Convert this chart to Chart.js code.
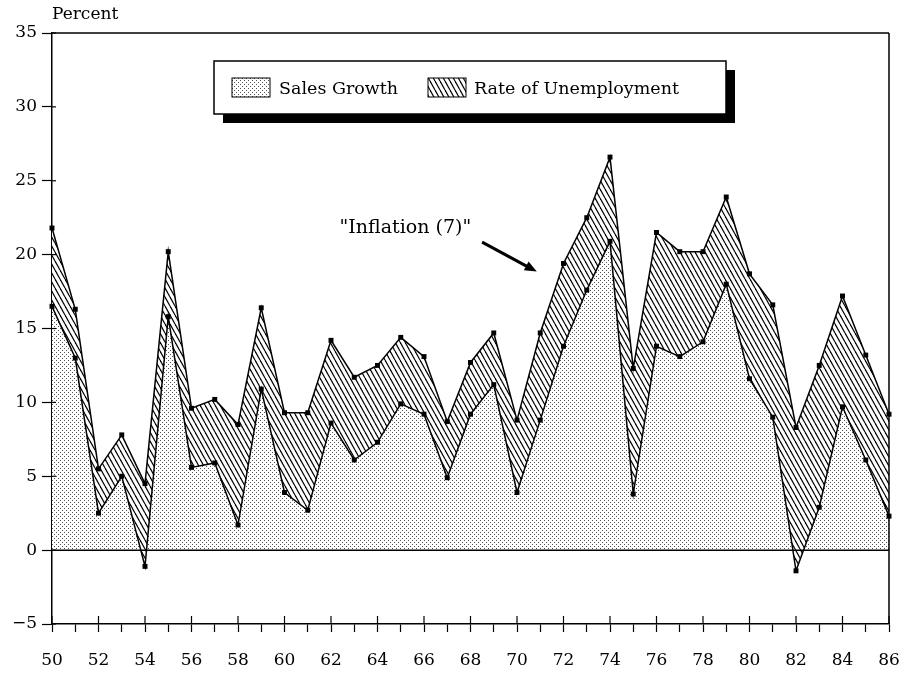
<!DOCTYPE html>
<html>
<head>
<meta charset="utf-8">
<script src="https://cdn.jsdelivr.net/npm/chart.js@4.4.1/dist/chart.umd.min.js"></script>
<style>
  html, body { margin: 0; padding: 0; background: #fff; overflow: hidden; }
  #chart { display: block; }
</style>
</head>
<body>
<canvas id="chart" width="904" height="677"></canvas>
<script>
// Years 1950-1986 (tick labels shown every 2 years)
const years = [50, 51, 52, 53, 54, 55, 56, 57, 58, 59, 60, 61, 62, 63, 64, 65, 66, 67, 68,
  69, 70, 71, 72, 73, 74, 75, 76, 77, 78, 79, 80, 81, 82, 83, 84, 85, 86];

// Sales growth (%), lower band
const salesGrowth = [16.5, 13.0, 2.5, 5.0, -1.1, 15.8, 5.6, 5.9, 1.7, 10.9, 3.9, 2.7, 8.6,
  6.1, 7.3, 9.9, 9.2, 4.9, 9.2, 11.2, 3.9, 8.8, 13.8, 17.6, 20.9, 3.8, 13.8, 13.1, 14.1,
  18.0, 11.6, 9.0, -1.4, 2.9, 9.7, 6.1, 2.3];

// Rate of unemployment (%), stacked on top of sales growth
const unemployment = [5.3, 3.3, 3.0, 2.8, 5.6, 4.4, 4.0, 4.3, 6.8, 5.5, 5.4, 6.6, 5.6,
  5.6, 5.2, 4.5, 3.9, 3.8, 3.5, 3.5, 4.9, 5.9, 5.6, 4.9, 5.7, 8.5, 7.7, 7.1, 6.1,
  5.9, 7.1, 7.6, 9.7, 9.6, 7.5, 7.1, 6.9];

const seriesNames = ['Sales Growth', 'Rate of Unemployment'];
const yTicks = { min: -5, max: 35, step: 5 };
const note = { text: '"Inflation (7)"', x: 65.2, y: 21.8, from: [68.5, 20.85], to: [70.85, 18.85] };

// fill patterns
function stipple() {
  const c = document.createElement('canvas');
  c.width = 4; c.height = 4;
  const g = c.getContext('2d');
  g.fillStyle = '#fff';
  g.fillRect(0, 0, 4, 4);
  g.fillStyle = '#555';
  g.fillRect(0, 0, 1, 1);
  g.fillRect(2, 2, 1, 1);
  return g.createPattern(c, 'repeat');
}

function hatch() {
  const w = 5, h = 9;
  const c = document.createElement('canvas');
  c.width = w; c.height = h;
  const g = c.getContext('2d');
  g.fillStyle = '#fff';
  g.fillRect(0, 0, w, h);
  g.strokeStyle = '#000';
  g.lineWidth = 1.2;
  for (let k = -1; k <= 1; k++) {
    g.beginPath();
    g.moveTo(k * w, 0);
    g.lineTo(k * w + w, h);
    g.stroke();
  }
  return g.createPattern(c, 'repeat');
}

const dotFill = stipple();
const lineFill = hatch();

Chart.defaults.font.family = '"DejaVu Serif", serif';
Chart.defaults.font.size = 17;
Chart.defaults.color = '#000';

function seg(ctx, x1, y1, x2, y2) {
  ctx.beginPath();
  ctx.moveTo(x1, y1);
  ctx.lineTo(x2, y2);
  ctx.stroke();
}

// zero line, frame, inner ticks, title, note and boxed legend
const decor = {
  id: 'decor',
  afterDatasetsDraw(chart) {
    const { ctx, chartArea: a, scales: { x, y } } = chart;
    ctx.save();
    ctx.strokeStyle = '#000';
    ctx.fillStyle = '#000';
    ctx.lineWidth = 1.5;

    const y0 = y.getPixelForValue(0);
    seg(ctx, a.left, y0, a.right, y0);
    seg(ctx, a.left, a.top, a.right, a.top);
    seg(ctx, a.right, a.top, a.right, a.bottom);

    ctx.lineWidth = 1.2;
    y.ticks.forEach(t => {
      const py = y.getPixelForValue(t.value);
      seg(ctx, a.left, py, a.left + 4, py);
    });
    years.forEach((yr, i) => {
      if (yr % 2 === 0) {
        const px = x.getPixelForValue(i);
        seg(ctx, px, a.bottom, px, a.bottom - 8);
      }
    });

    // axis title
    ctx.font = '17px "DejaVu Serif"';
    ctx.textAlign = 'left';
    ctx.textBaseline = 'middle';
    ctx.fillText('Percent', a.left, 15);

    // annotation
    const xv = v => x.getPixelForValue(v - years[0]);
    ctx.font = '19px "DejaVu Serif"';
    ctx.textAlign = 'center';
    ctx.fillText(note.text, xv(note.x), y.getPixelForValue(note.y));
    const ax1 = xv(note.from[0]), ay1 = y.getPixelForValue(note.from[1]);
    const ax2 = xv(note.to[0]), ay2 = y.getPixelForValue(note.to[1]);
    const ang = Math.atan2(ay2 - ay1, ax2 - ax1);
    ctx.lineWidth = 3;
    seg(ctx, ax1, ay1, ax2 - 8 * Math.cos(ang), ay2 - 8 * Math.sin(ang));
    ctx.beginPath();
    ctx.moveTo(ax2, ay2);
    ctx.lineTo(ax2 - 12 * Math.cos(ang) + 5 * Math.sin(ang), ay2 - 12 * Math.sin(ang) - 5 * Math.cos(ang));
    ctx.lineTo(ax2 - 12 * Math.cos(ang) - 5 * Math.sin(ang), ay2 - 12 * Math.sin(ang) + 5 * Math.cos(ang));
    ctx.closePath();
    ctx.fill();

    // legend box with drop shadow
    const bx = a.left + 162, by = a.top + 28, bw = 512, bh = 53;
    ctx.fillRect(bx + 9, by + 9, bw, bh);
    ctx.fillStyle = '#fff';
    ctx.fillRect(bx, by, bw, bh);
    ctx.lineWidth = 1.5;
    ctx.strokeRect(bx, by, bw, bh);

    const items = [
      { label: seriesNames[0], fill: dotFill, px: bx + 18, tx: bx + 65 },
      { label: seriesNames[1], fill: lineFill, px: bx + 214, tx: bx + 260 }
    ];
    ctx.font = '17.5px "DejaVu Serif"';
    ctx.textAlign = 'left';
    items.forEach(it => {
      ctx.fillStyle = it.fill;
      ctx.fillRect(it.px, by + 17, 38, 19);
      ctx.lineWidth = 1;
      ctx.strokeRect(it.px, by + 17, 38, 19);
      ctx.fillStyle = '#000';
      ctx.fillText(it.label, it.tx, by + 28);
    });
    ctx.restore();
  }
};

new Chart(document.getElementById('chart'), {
  type: 'line',
  data: {
    labels: years.map(String),
    datasets: [
      {
        label: seriesNames[0],
        data: salesGrowth,
        borderColor: '#000',
        borderWidth: 1.5,
        backgroundColor: dotFill,
        fill: { target: 'origin', above: dotFill, below: 'rgba(0,0,0,0)' },
        pointStyle: 'rect',
        pointRadius: 3.5,
        pointBackgroundColor: '#000',
        pointBorderColor: '#000',
        pointBorderWidth: 0,
        tension: 0
      },
      {
        label: seriesNames[1],
        data: unemployment,
        borderColor: '#000',
        borderWidth: 1.5,
        backgroundColor: lineFill,
        fill: '-1',
        pointStyle: 'rect',
        pointRadius: 3.5,
        pointBackgroundColor: '#000',
        pointBorderColor: '#000',
        pointBorderWidth: 0,
        tension: 0
      }
    ]
  },
  options: {
    responsive: false,
    animation: false,
    layout: { padding: { left: 0, right: 15, top: 33, bottom: 0 } },
    plugins: {
      legend: { display: false },
      tooltip: { enabled: false }
    },
    scales: {
      x: {
        type: 'category',
        offset: false,
        afterFit: s => { s.height = 53; s.paddingLeft = 0; s.paddingRight = 0; },
        border: { color: '#000', width: 1.5 },
        grid: { offset: false, drawOnChartArea: false, tickColor: '#000', tickLength: 8, tickWidth: 1.2 },
        ticks: {
          autoSkip: false,
          maxRotation: 0,
          padding: 18,
          callback: (v, i) => (years[i] % 2 === 0 ? String(years[i]) : '')
        }
      },
      y: {
        stacked: 'single',
        min: yTicks.min,
        max: yTicks.max,
        afterFit: s => { s.width = 52; s.paddingTop = 0; s.paddingBottom = 0; },
        border: { color: '#000', width: 1.5 },
        grid: { drawOnChartArea: false, tickColor: '#000', tickLength: 10, tickWidth: 1.2 },
        ticks: {
          stepSize: yTicks.step,
          padding: 5,
          callback: v => String(v).replace('-', '\u2212')
        }
      }
    }
  },
  plugins: [decor]
});
</script>
</body>
</html>
